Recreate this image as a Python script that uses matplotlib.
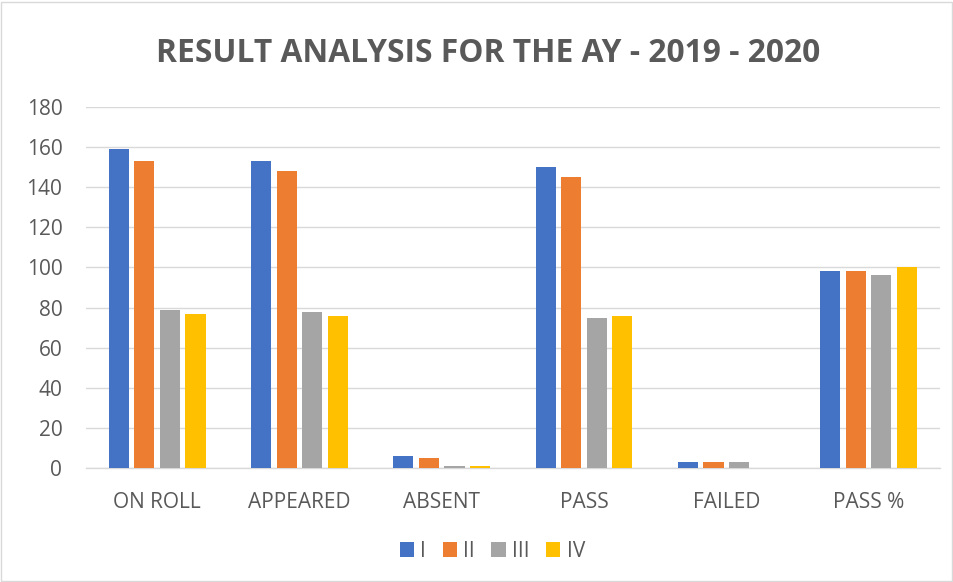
import matplotlib
import numpy as np

matplotlib.use("Agg")

from matplotlib import pyplot as plt  # noqa: E402
from matplotlib.patches import Rectangle  # noqa: E402

categories = ["ON ROLL", "APPEARED", "ABSENT", "PASS", "FAILED", "PASS %"]
series_names = ["I", "II", "III", "IV"]
values_i = [159, 153, 6, 150, 3, 98]
values_ii = [153, 148, 5, 145, 3, 98]
values_iii = [79, 78, 1, 75, 3, 96]
values_iv = [77, 76, 1, 76, 0, 100]
colors = ["#4472C4", "#ED7D31", "#A5A5A5", "#FFC000"]

plt.rcParams["font.family"] = ["Open Sans", "DejaVu Sans"]
text_color = "#595959"

figure = plt.figure(figsize=(9.54, 5.82), dpi=100)
axis = figure.add_axes([0.0901, 0.196, 0.895, 0.620])

x = np.arange(len(categories))
width = 0.141
step = 0.18
for i, (name, vals) in enumerate(zip(series_names, [values_i, values_ii, values_iii, values_iv])):
    axis.bar(x + (i - 1.5) * step, vals, width=width, color=colors[i], label=name, zorder=3)

axis.set_xlim(-0.5, len(categories) - 0.5)
axis.set_ylim(0, 180)
axis.set_yticks(range(0, 181, 20))
axis.set_xticks(x)
axis.set_xticklabels(categories)
axis.tick_params(axis="both", length=0, labelsize=15, colors=text_color)
axis.tick_params(axis="x", pad=17)
axis.tick_params(axis="y", pad=17)
axis.grid(True, axis="y", color="#d9d9d9", linewidth=1.0, zorder=0)
for spine in ["left", "right", "top"]:
    axis.spines[spine].set_visible(False)
axis.spines["bottom"].set_color("#d9d9d9")
axis.spines["bottom"].set_linewidth(1.0)

figure.text(0.512, 0.908, "RESULT ANALYSIS FOR THE AY - 2019 - 2020", ha="center", va="center",
            fontsize=22.9, fontweight="bold", color=text_color)

figure.legend(loc="center", bbox_to_anchor=(0.516, 0.053), ncol=4, frameon=False,
              fontsize=15, labelcolor=text_color, handlelength=0.68, handleheight=0.68,
              handletextpad=0.3, columnspacing=0.8)

figure.patches.append(Rectangle((0.001, 0.002), 0.997, 0.995, transform=figure.transFigure,
                                fill=False, edgecolor="#d9d9d9", linewidth=1.0))

figure.savefig("out.png", dpi=100)
